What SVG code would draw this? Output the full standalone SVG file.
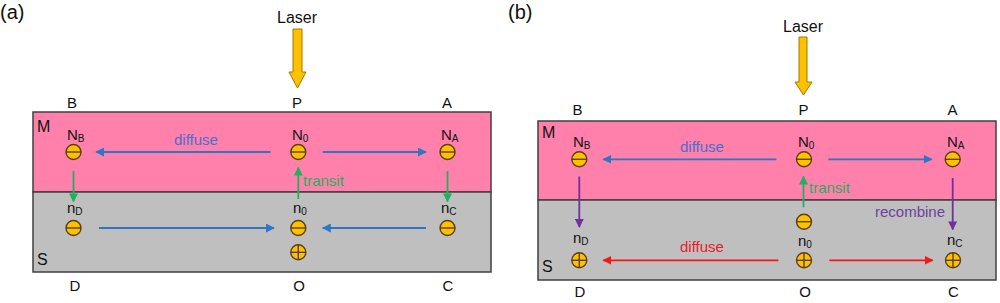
<svg xmlns="http://www.w3.org/2000/svg" width="1000" height="303" viewBox="0 0 1000 303">
<style>
text{font-family:"Liberation Sans",Arial,sans-serif;fill:#111;}
.pl{font-size:20px;}
.ls{font-size:16px;text-anchor:middle;}
.cn{font-size:15px;text-anchor:middle;}
.ms{font-size:16px;}
.nl{font-size:15px;}
.sub{font-size:10px;}
.lbl{font-size:15px;}
.blueT{fill:#4a6fd0;}
.greenT{fill:#1fb060;}
.purpT{fill:#7040a0;}
.redT{fill:#e8202a;}
.pink{fill:#ff80ab;stroke:#404040;stroke-width:1.5;}
.gray{fill:#bfbfbf;stroke:#404040;stroke-width:1.5;}
.ch{fill:#ffc000;stroke:#5a4010;stroke-width:1.4;}
.cl{stroke:#5a4010;stroke-width:1.4;}
.laser{fill:#ffc000;stroke:#a07800;stroke-width:1;}
.b{stroke:#2e75c6;stroke-width:1.8;fill:none;marker-end:url(#mb);}
.g{stroke:#22b060;stroke-width:1.8;fill:none;marker-end:url(#mg);}
.p{stroke:#7030a0;stroke-width:1.8;fill:none;marker-end:url(#mp);}
.r{stroke:#f01818;stroke-width:1.8;fill:none;marker-end:url(#mr);}
</style>
<defs>
<marker id="mb" viewBox="0 0 10 10" refX="9" refY="5" markerWidth="5" markerHeight="5" orient="auto"><path d="M0,0 L10,5 L0,10 z" fill="#2e75c6"/></marker>
<marker id="mg" viewBox="0 0 10 10" refX="9" refY="5" markerWidth="5" markerHeight="5" orient="auto"><path d="M0,0 L10,5 L0,10 z" fill="#22b060"/></marker>
<marker id="mp" viewBox="0 0 10 10" refX="9" refY="5" markerWidth="5" markerHeight="5" orient="auto"><path d="M0,0 L10,5 L0,10 z" fill="#7030a0"/></marker>
<marker id="mr" viewBox="0 0 10 10" refX="9" refY="5" markerWidth="5" markerHeight="5" orient="auto"><path d="M0,0 L10,5 L0,10 z" fill="#f01818"/></marker>
<g id="minus"><circle class="ch" cx="0" cy="0" r="7.5"/><line class="cl" x1="-7.5" y1="0" x2="7.5" y2="0"/></g>
<g id="plus"><circle class="ch" cx="0" cy="0" r="7.5"/><line class="cl" x1="-7.5" y1="0" x2="7.5" y2="0"/><line class="cl" x1="0" y1="-7.5" x2="0" y2="7.5"/></g>
</defs>
<rect width="1000" height="303" fill="#fff"/>

<!-- Panel (a) -->
<g id="panel-a">
<text class="pl" x="0" y="19">(a)</text>
<g id="a-laser">
<text class="ls" x="297" y="23">Laser</text>
<path class="laser" d="M293,29 H302 V72 H306 L297.5,88 L289,72 H293 Z"/>
</g>
<g id="a-layers">
<rect class="pink" x="33" y="112" width="458" height="80"/>
<rect class="gray" x="33" y="192" width="458" height="80"/>
<text class="ms" x="37" y="132">M</text>
<text class="ms" x="37" y="265">S</text>
</g>
<g id="a-corners">
<text class="cn" x="72" y="108">B</text>
<text class="cn" x="297" y="108">P</text>
<text class="cn" x="447" y="108">A</text>
<text class="cn" x="75" y="291">D</text>
<text class="cn" x="299" y="291">O</text>
<text class="cn" x="448" y="291">C</text>
</g>
<g id="a-NB"><text class="nl" x="67" y="140">N<tspan class="sub" dy="2">B</tspan></text><use href="#minus" x="73.5" y="152"/></g>
<g id="a-N0"><text class="nl" x="292" y="140">N<tspan class="sub" dy="2">0</tspan></text><use href="#minus" x="298.3" y="152"/></g>
<g id="a-NA"><text class="nl" x="441" y="140">N<tspan class="sub" dy="2">A</tspan></text><use href="#minus" x="447.5" y="152"/></g>
<g id="a-nD"><text class="nl" x="67" y="213">n<tspan class="sub" dy="2">D</tspan></text><use href="#minus" x="73.5" y="228"/></g>
<g id="a-n0"><text class="nl" x="293" y="213">n<tspan class="sub" dy="2">0</tspan></text><use href="#minus" x="298.3" y="228"/><use href="#plus" x="298.3" y="252.3"/></g>
<g id="a-nC"><text class="nl" x="441" y="213">n<tspan class="sub" dy="2">C</tspan></text><use href="#minus" x="447.5" y="228"/></g>
<g id="a-connectors">
<line class="b" x1="270.5" y1="152" x2="96" y2="152"/>
<line class="b" x1="322.7" y1="152" x2="426" y2="152"/>
<line class="b" x1="99" y1="228" x2="274" y2="228"/>
<line class="b" x1="426" y1="228" x2="322.7" y2="228"/>
<line class="g" x1="73.5" y1="171" x2="73.5" y2="201.5"/>
<line class="g" x1="447.5" y1="171" x2="447.5" y2="201.5"/>
<line class="g" x1="298.3" y1="199" x2="298.3" y2="167.5"/>
<text class="lbl blueT" x="174" y="145">diffuse</text>
<text class="lbl greenT" x="303" y="186">transit</text>
</g>
</g>

<!-- Panel (b) -->
<g id="panel-b">
<text class="pl" x="508" y="19">(b)</text>
<g id="b-laser">
<text class="ls" x="803" y="32">Laser</text>
<path class="laser" d="M799,37 H807 V82 H812 L803.5,95 L795,82 H799 Z"/>
</g>
<g id="b-layers">
<rect class="pink" x="538" y="121" width="458" height="79"/>
<rect class="gray" x="538" y="200" width="458" height="80"/>
<text class="ms" x="542" y="138">M</text>
<text class="ms" x="542" y="272">S</text>
</g>
<g id="b-corners">
<text class="cn" x="577.5" y="115">B</text>
<text class="cn" x="803.5" y="115">P</text>
<text class="cn" x="952.5" y="115">A</text>
<text class="cn" x="580" y="297">D</text>
<text class="cn" x="805" y="297">O</text>
<text class="cn" x="953.5" y="297">C</text>
</g>
<g id="b-NB"><text class="nl" x="573" y="147">N<tspan class="sub" dy="2">B</tspan></text><use href="#minus" x="579.3" y="159.3"/></g>
<g id="b-N0"><text class="nl" x="798" y="147">N<tspan class="sub" dy="2">0</tspan></text><use href="#minus" x="804" y="159.3"/></g>
<g id="b-NA"><text class="nl" x="947" y="147">N<tspan class="sub" dy="2">A</tspan></text><use href="#minus" x="952.7" y="159.3"/></g>
<g id="b-e"><use href="#minus" x="804" y="221.7"/></g>
<g id="b-nD"><text class="nl" x="573" y="243">n<tspan class="sub" dy="2">D</tspan></text><use href="#plus" x="579.3" y="260.3"/></g>
<g id="b-n0"><text class="nl" x="798" y="246">n<tspan class="sub" dy="2">0</tspan></text><use href="#plus" x="804" y="260.3"/></g>
<g id="b-nC"><text class="nl" x="947" y="245">n<tspan class="sub" dy="2">C</tspan></text><use href="#plus" x="953" y="260.3"/></g>
<g id="b-connectors">
<line class="b" x1="776.5" y1="159.3" x2="603.3" y2="159.3"/>
<line class="b" x1="828.3" y1="159.3" x2="931.7" y2="159.3"/>
<line class="r" x1="778.3" y1="260.3" x2="603.3" y2="260.3"/>
<line class="r" x1="829.3" y1="260.3" x2="932.7" y2="260.3"/>
<line class="p" x1="579.3" y1="176.5" x2="579.3" y2="227"/>
<line class="p" x1="952.7" y1="178" x2="952.7" y2="229.5"/>
<line class="g" x1="803.5" y1="207.3" x2="803.5" y2="176.5"/>
<text class="lbl blueT" x="680" y="152">diffuse</text>
<text class="lbl redT" x="680" y="252">diffuse</text>
<text class="lbl greenT" x="809" y="193">transit</text>
<text class="lbl purpT" x="945" y="217" text-anchor="end">recombine</text>
</g>
</g>
</svg>
